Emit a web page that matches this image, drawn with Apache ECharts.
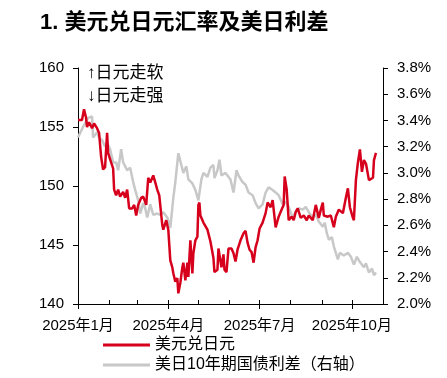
<!DOCTYPE html>
<html><head><meta charset="utf-8">
<script src="https://cdn.jsdelivr.net/npm/echarts@6/dist/echarts.min.js"></script>
<style>html,body{margin:0;padding:0;background:#fff}#c{width:447px;height:378px}</style>
</head><body><div id="c"></div>
<script>
const titleText = '1. 美元兑日元汇率及美日利差';
const noteUp = '↑日元走软';
const noteDown = '↓日元走强';
const seriesNames = ['美元兑日元', '美日10年期国债利差（右轴）'];

const fxDates = ['2025-01-01','2025-01-05','2025-01-07','2025-01-09','2025-01-10','2025-01-12','2025-01-15','2025-01-17','2025-01-20','2025-01-22','2025-01-24','2025-01-26','2025-01-28','2025-01-30','2025-01-31','2025-02-03','2025-02-05','2025-02-06','2025-02-08','2025-02-10','2025-02-12','2025-02-15','2025-02-17','2025-02-19','2025-02-21','2025-02-24','2025-02-26','2025-02-28','2025-03-02','2025-03-05','2025-03-07','2025-03-10','2025-03-12','2025-03-14','2025-03-17','2025-03-19','2025-03-21','2025-03-23','2025-03-26','2025-03-27','2025-03-30','2025-04-01','2025-04-03','2025-04-05','2025-04-06','2025-04-08','2025-04-10','2025-04-11','2025-04-13','2025-04-15','2025-04-16','2025-04-18','2025-04-20','2025-04-21','2025-04-23','2025-04-25','2025-04-26','2025-04-28','2025-04-30','2025-05-01','2025-05-02','2025-05-03','2025-05-06','2025-05-10','2025-05-13','2025-05-16','2025-05-17','2025-05-20','2025-05-21','2025-05-24','2025-05-26','2025-05-27','2025-05-29','2025-05-31','2025-06-03','2025-06-05','2025-06-07','2025-06-09','2025-06-12','2025-06-15','2025-06-17','2025-06-19','2025-06-21','2025-06-23','2025-06-25','2025-06-27','2025-06-29','2025-07-01','2025-07-04','2025-07-07','2025-07-09','2025-07-12','2025-07-14','2025-07-17','2025-07-20','2025-07-23','2025-07-25','2025-07-26','2025-07-28','2025-07-30','2025-08-02','2025-08-04','2025-08-06','2025-08-08','2025-08-11','2025-08-14','2025-08-17','2025-08-19','2025-08-21','2025-08-23','2025-08-26','2025-08-29','2025-08-31','2025-09-02','2025-09-03','2025-09-07','2025-09-10','2025-09-13','2025-09-15','2025-09-18','2025-09-22','2025-09-25','2025-09-27','2025-09-29','2025-10-02','2025-10-03','2025-10-05','2025-10-07','2025-10-09','2025-10-11','2025-10-13','2025-10-15','2025-10-18','2025-10-22','2025-10-23','2025-10-25'];
const fxValues = [155.6,155.6,156.5,155.8,155.0,155.4,154.9,155.3,154.9,154.5,152.5,151.4,151.6,154.5,152.8,152.0,151.5,149.7,149.2,149.7,149.1,149.5,149.0,149.7,148.1,148.1,148.4,147.5,148.4,149.0,149.1,148.4,150.7,150.3,150.9,150.3,149.7,149.2,146.7,146.3,147.1,146.3,143.7,143.1,142.6,141.9,142.2,140.9,141.8,143.1,143.5,142.0,143.5,142.3,145.4,142.6,144.3,145.4,145.7,148.4,148.6,147.5,146.9,146.3,145.3,143.9,142.7,142.9,144.7,143.1,144.2,142.9,142.7,144.7,144.7,144.3,143.6,144.6,145.4,146.0,146.2,145.2,144.6,144.4,143.5,144.8,145.4,146.4,146.9,147.7,148.6,148.2,148.8,146.5,147.4,148.0,148.4,150.8,149.7,147.1,147.4,147.1,147.8,148.1,147.3,147.5,147.1,147.5,147.3,147.1,148.4,147.3,148.0,148.6,147.5,147.4,147.5,146.5,147.4,148.0,147.7,149.0,149.8,148.2,147.3,147.1,150.5,152.0,153.1,151.2,152.2,151.9,150.5,150.7,152.2,152.8];

const spreadDates = ['2025-01-01','2025-01-06','2025-01-11','2025-01-15','2025-01-16','2025-01-20','2025-01-22','2025-01-25','2025-01-28','2025-01-30','2025-02-02','2025-02-05','2025-02-08','2025-02-10','2025-02-13','2025-02-15','2025-02-19','2025-02-22','2025-02-25','2025-02-27','2025-03-02','2025-03-04','2025-03-07','2025-03-09','2025-03-11','2025-03-14','2025-03-17','2025-03-21','2025-03-24','2025-03-27','2025-03-31','2025-04-03','2025-04-06','2025-04-08','2025-04-11','2025-04-14','2025-04-16','2025-04-19','2025-04-21','2025-04-25','2025-04-28','2025-05-01','2025-05-04','2025-05-06','2025-05-10','2025-05-13','2025-05-16','2025-05-17','2025-05-20','2025-05-22','2025-05-24','2025-05-28','2025-06-02','2025-06-05','2025-06-08','2025-06-10','2025-06-14','2025-06-17','2025-06-20','2025-06-24','2025-06-27','2025-06-30','2025-07-04','2025-07-07','2025-07-10','2025-07-14','2025-07-17','2025-07-20','2025-07-24','2025-07-27','2025-07-30','2025-08-03','2025-08-06','2025-08-09','2025-08-13','2025-08-16','2025-08-19','2025-08-23','2025-08-26','2025-08-29','2025-09-02','2025-09-04','2025-09-06','2025-09-08','2025-09-11','2025-09-13','2025-09-17','2025-09-19','2025-09-23','2025-09-27','2025-09-30','2025-10-03','2025-10-06','2025-10-09','2025-10-13','2025-10-15','2025-10-18','2025-10-21','2025-10-23','2025-10-25'];
const spreadValues = [3.27,3.35,3.42,3.43,3.27,3.31,3.27,3.25,3.20,3.23,3.18,3.08,3.08,3.02,3.18,3.08,3.02,3.04,2.93,2.87,2.79,2.69,2.77,2.73,2.66,2.76,2.68,2.69,2.68,2.70,2.66,2.58,2.81,2.93,3.15,3.06,3.00,3.05,2.95,2.92,2.87,2.79,2.95,3.00,2.97,3.04,3.06,2.96,3.02,3.10,2.98,3.00,2.95,2.85,3.02,2.98,2.93,2.91,2.85,2.83,2.77,2.73,2.76,2.85,2.89,2.87,2.85,2.83,2.76,2.78,2.74,2.66,2.70,2.73,2.72,2.74,2.70,2.66,2.68,2.63,2.59,2.62,2.54,2.49,2.51,2.44,2.34,2.39,2.37,2.39,2.36,2.30,2.36,2.32,2.28,2.31,2.24,2.27,2.22,2.24];

const leftTicks = [140, 160, 5];
const rightTicks = [2.0, 3.8, 0.2];
const xStart = '2025-01-01';
const xEnd = '2025-11-01';
const monthTickDates = ['2025-01-01','2025-02-01','2025-03-01','2025-04-01','2025-05-01','2025-06-01','2025-07-01','2025-08-01','2025-09-01','2025-10-01','2025-11-01'];
const labelDates = ['2025-01-01','2025-04-01','2025-07-01','2025-10-01'];

const FONT = '"Liberation Sans", Arial, "Noto Sans CJK SC", sans-serif';
const RED = '#d6001c';
const GRAY = '#c8c8c8';

const ts = s => { const p = s.split('-').map(Number); return new Date(p[0], p[1] - 1, p[2]).getTime(); };
const minT = ts(xStart), maxT = ts(xEnd);
const monthTicks = monthTickDates.map(ts);
const labelTicks = labelDates.map(ts);

const chart = echarts.init(document.getElementById('c'), null, {renderer: 'canvas'});
chart.setOption({
  animation: false,
  backgroundColor: '#fff',
  title: {
    text: titleText, left: 35, top: 7,
    textStyle: {fontFamily: FONT, fontSize: 22, fontWeight: 'bold', color: '#000'}
  },
  grid: {left: 78, right: 64, top: 68, bottom: 74},
  legend: {
    orient: 'vertical', left: 103, top: 335, padding: 0,
    itemWidth: 47, itemHeight: 3, itemGap: 0,
    icon: 'rect',
    textStyle: {fontFamily: FONT, fontSize: 16, color: '#000', lineHeight: 20},
    data: seriesNames
  },
  graphic: [
    {type: 'text', left: 87, top: 65, style: {text: noteUp, font: '17px ' + FONT, fill: '#000'}},
    {type: 'text', left: 87, top: 88, style: {text: noteDown, font: '17px ' + FONT, fill: '#000'}}
  ],
  xAxis: [
    {
      type: 'value', min: minT, max: maxT, position: 'bottom',
      axisLine: {show: true, onZero: false, lineStyle: {color: '#000', width: 1}},
      axisTick: {show: true, inside: true, length: 4, customValues: monthTicks, lineStyle: {color: '#000'}},
      axisLabel: {show: false},
      splitLine: {show: false}
    },
    {
      type: 'value', min: minT, max: maxT, position: 'bottom',
      axisLine: {show: false, onZero: false},
      axisTick: {show: true, inside: false, length: 5, customValues: labelTicks, lineStyle: {color: '#000'}},
      axisLabel: {
        show: true, customValues: labelTicks, margin: 14,
        fontFamily: FONT, fontSize: 15, color: '#000',
        formatter: v => { const d = new Date(v); return d.getFullYear() + '年' + (d.getMonth() + 1) + '月'; }
      },
      splitLine: {show: false}
    }
  ],
  yAxis: [
    {
      type: 'value', min: leftTicks[0], max: leftTicks[1], interval: leftTicks[2], position: 'left',
      axisLine: {show: true, lineStyle: {color: '#000'}},
      axisTick: {show: true, length: 5, lineStyle: {color: '#000'}},
      axisLabel: {margin: 14, fontFamily: FONT, fontSize: 15, color: '#000'},
      splitLine: {show: false}
    },
    {
      type: 'value', min: rightTicks[0], max: rightTicks[1], interval: rightTicks[2], position: 'right',
      axisLine: {show: true, lineStyle: {color: '#000'}},
      axisTick: {show: true, length: 5, lineStyle: {color: '#000'}},
      axisLabel: {margin: 14, fontFamily: FONT, fontSize: 15, color: '#000', formatter: v => v.toFixed(1) + '%'},
      splitLine: {show: false}
    }
  ],
  series: [
    {
      name: seriesNames[1], type: 'line', xAxisIndex: 0, yAxisIndex: 1,
      data: spreadDates.map((d, i) => [ts(d), spreadValues[i]]),
      showSymbol: false, symbol: 'none', lineStyle: {color: GRAY, width: 2.5}, itemStyle: {color: GRAY}, z: 2
    },
    {
      name: seriesNames[0], type: 'line', xAxisIndex: 0, yAxisIndex: 0,
      data: fxDates.map((d, i) => [ts(d), fxValues[i]]),
      showSymbol: false, symbol: 'none', lineStyle: {color: RED, width: 2.5}, itemStyle: {color: RED}, z: 3
    }
  ]
});
</script></body></html>
